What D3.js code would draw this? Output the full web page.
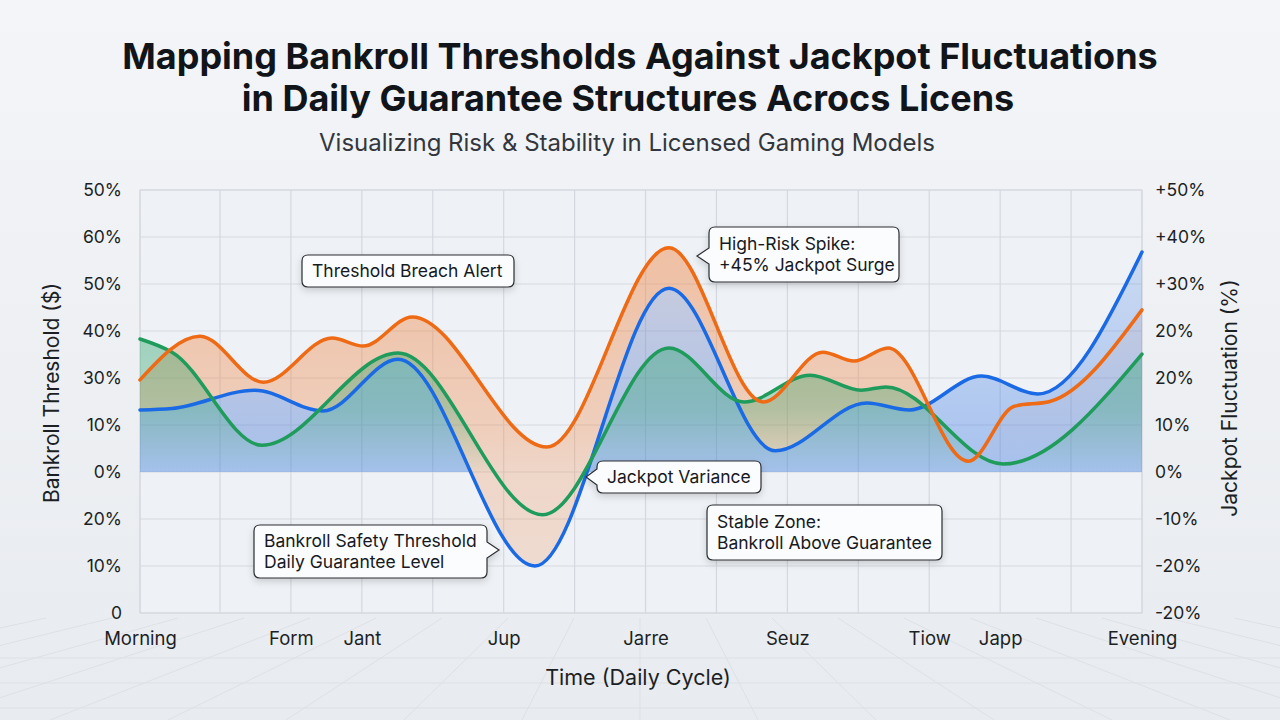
<!DOCTYPE html>
<html>
<head>
<meta charset="utf-8">
<script src="https://cdn.jsdelivr.net/npm/d3@7"></script>
<style>
  html, body { margin: 0; padding: 0; }
  body { width: 1280px; height: 720px; overflow: hidden; font-family: Inter, "Noto Sans", sans-serif; }
  .tick text { font-family: Inter, "Noto Sans", sans-serif; fill: #1c1f24; }
</style>
</head>
<body>
<div id="chart"></div>
<script>
// time categories (grid index along the daily cycle)
const xLabels = ['Morning', 'Form', 'Jant', 'Jup', 'Jarre', 'Seuz', 'Tiow', 'Japp', 'Evening'];
const xLabelIdx = [0, 2, 3, 5, 7, 9, 11, 12, 14];

// axis tick labels, bottom to top
const leftTicks = ['0', '10%', '20%', '0%', '10%', '30%', '40%', '50%', '60%', '50%'];
const rightTicks = ['-20%', '-20%', '-10%', '0%', '10%', '20%', '20%', '+30%', '+40%', '+50%'];

// series key points [time index, level]
const jackpotLine = [[0, 4.96], [0.75, 5.89], [1.61, 4.91], [2.58, 5.85], [3.02, 5.68], [3.71, 6.30],
  [5.61, 3.53], [7.33, 7.77], [8.66, 4.49], [9.50, 5.55], [9.94, 5.36], [10.42, 5.64],
  [11.55, 3.23], [12.2, 4.40], [12.7, 4.50], [14, 6.45]];
const bankrollLine = [[0, 4.32], [0.4, 4.35], [1.49, 4.74], [2.45, 4.30], [3.51, 5.40], [5.44, 1.00],
  [7.33, 6.91], [8.83, 3.45], [10.12, 4.47], [10.72, 4.32], [11.74, 5.04], [12.53, 4.66], [14, 7.68]];
const guaranteeLine = [[0, 5.83], [0.4, 5.55], [1.59, 3.57], [3.51, 5.53], [5.55, 2.09], [7.33, 5.64], [8.39, 4.49],
  [9.32, 5.06], [10.04, 4.74], [10.39, 4.81], [12.04, 3.17], [14, 5.51]];
const baseLevel = 3;

const W = 1280, H = 720;
const svg = d3.select('#chart').append('svg').attr('width', W).attr('height', H);
const defs = svg.append('defs');

// background
const bg = defs.append('linearGradient').attr('id', 'bg').attr('x1', 0).attr('y1', 0).attr('x2', 0).attr('y2', 1);
bg.append('stop').attr('offset', '0%').attr('stop-color', '#f3f5f8');
bg.append('stop').attr('offset', '100%').attr('stop-color', '#e8ebef');
svg.append('rect').attr('width', W).attr('height', H).attr('fill', 'url(#bg)');

// faint perspective floor
const floor = svg.append('g').attr('stroke', '#dde1e6').attr('stroke-width', 1);
[658, 683, 708].forEach(yy => floor.append('line').attr('x1', 0).attr('x2', W).attr('y1', yy).attr('y2', yy));
d3.range(-12, 13).forEach(k => {
  floor.append('line')
    .attr('x1', 640 + k * 66).attr('y1', 618)
    .attr('x2', 640 + k * 118).attr('y2', H);
});

const x = d3.scaleLinear().domain([0, 1, 14]).range([140, 220, 1142]);
const y = d3.scaleLinear().domain([0, 9]).range([613, 190]);

// title
svg.append('text').attr('x', 640).attr('y', 69).attr('text-anchor', 'middle')
  .style('font-size', '36px').style('font-weight', 700).attr('fill', '#111418')
  .text('Mapping Bankroll Thresholds Against Jackpot Fluctuations');
svg.append('text').attr('x', 628).attr('y', 111).attr('text-anchor', 'middle')
  .style('font-size', '36px').style('font-weight', 700).attr('fill', '#111418')
  .text('in Daily Guarantee Structures Acrocs Licens');
svg.append('text').attr('x', 627).attr('y', 151).attr('text-anchor', 'middle')
  .style('font-size', '24px').attr('fill', '#33373d')
  .text('Visualizing Risk & Stability in Licensed Gaming Models');

// plot background + grid
const plot = svg.append('g');
plot.append('rect').attr('x', x(0)).attr('y', y(9)).attr('width', x(14) - x(0)).attr('height', y(0) - y(9))
  .attr('fill', '#eef1f5').attr('stroke', '#d3d7dd');
plot.selectAll('line.vg').data(d3.range(0, 15)).join('line').attr('class', 'vg')
  .attr('x1', d => x(d)).attr('x2', d => x(d)).attr('y1', y(0)).attr('y2', y(9))
  .attr('stroke', '#d5d9df').attr('stroke-width', 1.2);
plot.selectAll('line.hg').data(d3.range(0, 10)).join('line').attr('class', 'hg')
  .attr('x1', x(0)).attr('x2', x(14)).attr('y1', d => y(d)).attr('y2', d => y(d))
  .attr('stroke', '#d5d9df').attr('stroke-width', 1.2);

// gradients
function grad(id, color, y1, y2, stops) {
  const g = defs.append('linearGradient').attr('id', id).attr('gradientUnits', 'userSpaceOnUse')
    .attr('x1', 0).attr('x2', 0).attr('y1', y1).attr('y2', y2);
  stops.forEach(([off, op]) => g.append('stop').attr('offset', off).attr('stop-color', color).attr('stop-opacity', op));
}
const baseOff = (y(baseLevel) - y(8)) / (y(1) - y(8));
grad('gOrangeBand', '#f0813c', y(8), y(1), [[0, 0.34], [1, 0.2]]);
grad('gOrange', '#f0813c', y(8), y(1), [[0, 0.16], [baseOff * 0.85, 0.06], [baseOff, 0.0]]);
grad('gBlue', '#3b7be6', y(8), y(baseLevel), [[0, 0.18], [1, 0.4]]);
grad('gGreen', '#23a064', y(6), y(baseLevel), [[0, 0.4], [0.55, 0.3], [1, 0.02]]);

const curve = d3.curveMonotoneX;

// clip: above the baseline
defs.append('clipPath').attr('id', 'aboveBase').append('rect')
  .attr('x', x(0)).attr('y', y(9)).attr('width', x(14) - x(0)).attr('height', y(baseLevel) - y(9));
// clip: above the blue line
defs.append('clipPath').attr('id', 'aboveBlue').append('path')
  .attr('d', d3.area().curve(curve).x(d => x(d[0])).y0(y(9)).y1(d => y(d[1]))(bankrollLine));

const orangeArea = d3.area().curve(curve).x(d => x(d[0])).y0(y(0)).y1(d => y(d[1]))(jackpotLine);
plot.append('path').attr('d', orangeArea)
  .attr('fill', 'url(#gOrangeBand)').attr('clip-path', 'url(#aboveBlue)');
plot.append('path').attr('d', orangeArea)
  .attr('fill', 'url(#gOrange)').attr('clip-path', 'url(#aboveBase)');
plot.append('path')
  .attr('d', d3.area().curve(curve).x(d => x(d[0])).y0(y(baseLevel)).y1(d => y(d[1]))(bankrollLine))
  .attr('fill', 'url(#gBlue)').attr('clip-path', 'url(#aboveBase)');
plot.append('path')
  .attr('d', d3.area().curve(curve).x(d => x(d[0])).y0(y(baseLevel)).y1(d => y(d[1]))(guaranteeLine))
  .attr('fill', 'url(#gGreen)').attr('clip-path', 'url(#aboveBase)');

const line = d3.line().curve(curve).x(d => x(d[0])).y(d => y(d[1]));
[[bankrollLine, '#1a6ae6'], [guaranteeLine, '#1f9c5c'], [jackpotLine, '#ef6a14']].forEach(([s, c]) => {
  plot.append('path').attr('d', line(s)).attr('fill', 'none').attr('stroke', c)
    .attr('stroke-width', 3.5).attr('stroke-linecap', 'round');
});

// axes
const axL = svg.append('g').attr('transform', `translate(${x(0)},0)`)
  .call(d3.axisLeft(y).tickValues(d3.range(10)).tickFormat(i => leftTicks[i]).tickSize(0).tickPadding(18));
const axR = svg.append('g').attr('transform', `translate(${x(14)},0)`)
  .call(d3.axisRight(y).tickValues(d3.range(10)).tickFormat(i => rightTicks[i]).tickSize(0).tickPadding(13));
const axB = svg.append('g').attr('transform', `translate(0,${y(0)})`)
  .call(d3.axisBottom(x).tickValues(xLabelIdx).tickFormat((d, i) => xLabels[i]).tickSize(0).tickPadding(19));
[axL, axR].forEach(a => {
  a.select('.domain').remove();
  a.selectAll('text').style('font-size', '17.5px');
});
axB.select('.domain').remove();
axB.selectAll('text').style('font-size', '18.5px');

svg.append('text').attr('transform', 'translate(59,393) rotate(-90)').attr('text-anchor', 'middle')
  .style('font-size', '21px').attr('fill', '#1c1f24').text('Bankroll Threshold ($)');
svg.append('text').attr('transform', 'translate(1237,398) rotate(-90)').attr('text-anchor', 'middle')
  .style('font-size', '21px').attr('fill', '#1c1f24').text('Jackpot Fluctuation (%)');
svg.append('text').attr('x', 638).attr('y', 685).attr('text-anchor', 'middle')
  .style('font-size', '21.5px').attr('fill', '#1c1f24').text('Time (Daily Cycle)');

// callouts
const sh = defs.append('filter').attr('id', 'shadow').attr('x', '-20%').attr('y', '-30%').attr('width', '140%').attr('height', '180%');
sh.append('feDropShadow').attr('dx', 0).attr('dy', 3).attr('stdDeviation', 3.5).attr('flood-color', '#000').attr('flood-opacity', 0.16);

function boxPath(x0, y0, w, h, r, notch) {
  const x1 = x0 + w, y1 = y0 + h;
  let p = `M${x0 + r},${y0} H${x1 - r} Q${x1},${y0} ${x1},${y0 + r}`;
  if (notch && notch.side === 'right') p += ` V${notch.y - 8} L${notch.tip},${notch.y} L${x1},${notch.y + 8}`;
  p += ` V${y1 - r} Q${x1},${y1} ${x1 - r},${y1} H${x0 + r} Q${x0},${y1} ${x0},${y1 - r}`;
  if (notch && notch.side === 'left') p += ` V${notch.y + 8} L${notch.tip},${notch.y} L${x0},${notch.y - 8}`;
  p += ` V${y0 + r} Q${x0},${y0} ${x0 + r},${y0} Z`;
  return p;
}
function callout(bx, by, bw, bh, lines, notch) {
  const g = svg.append('g');
  g.append('path').attr('d', boxPath(bx, by, bw, bh, 6, notch))
    .attr('fill', '#fbfcfd').attr('stroke', '#2a2d33').attr('stroke-width', 1.2).attr('filter', 'url(#shadow)');
  const lh = 21, top = by + bh / 2 - (lines.length - 1) * lh / 2;
  lines.forEach((t, i) => {
    g.append('text').attr('x', bx + 10).attr('y', top + i * lh).attr('dy', '0.36em')
      .style('font-size', '17.5px').attr('fill', '#16191d').text(t);
  });
}
callout(302, 255, 212, 32, ['Threshold Breach Alert']);
callout(709, 227, 190, 55, ['High-Risk Spike:', '+45% Jackpot Surge'], { side: 'left', y: 256, tip: 697 });
callout(597, 461, 164, 32, ['Jackpot Variance'], { side: 'left', y: 477, tip: 586 });
callout(254, 525, 233, 53, ['Bankroll Safety Threshold', 'Daily Guarantee Level'], { side: 'right', y: 550, tip: 499 });
callout(707, 505, 235, 55, ['Stable Zone:', 'Bankroll Above Guarantee']);
</script>
</body>
</html>
